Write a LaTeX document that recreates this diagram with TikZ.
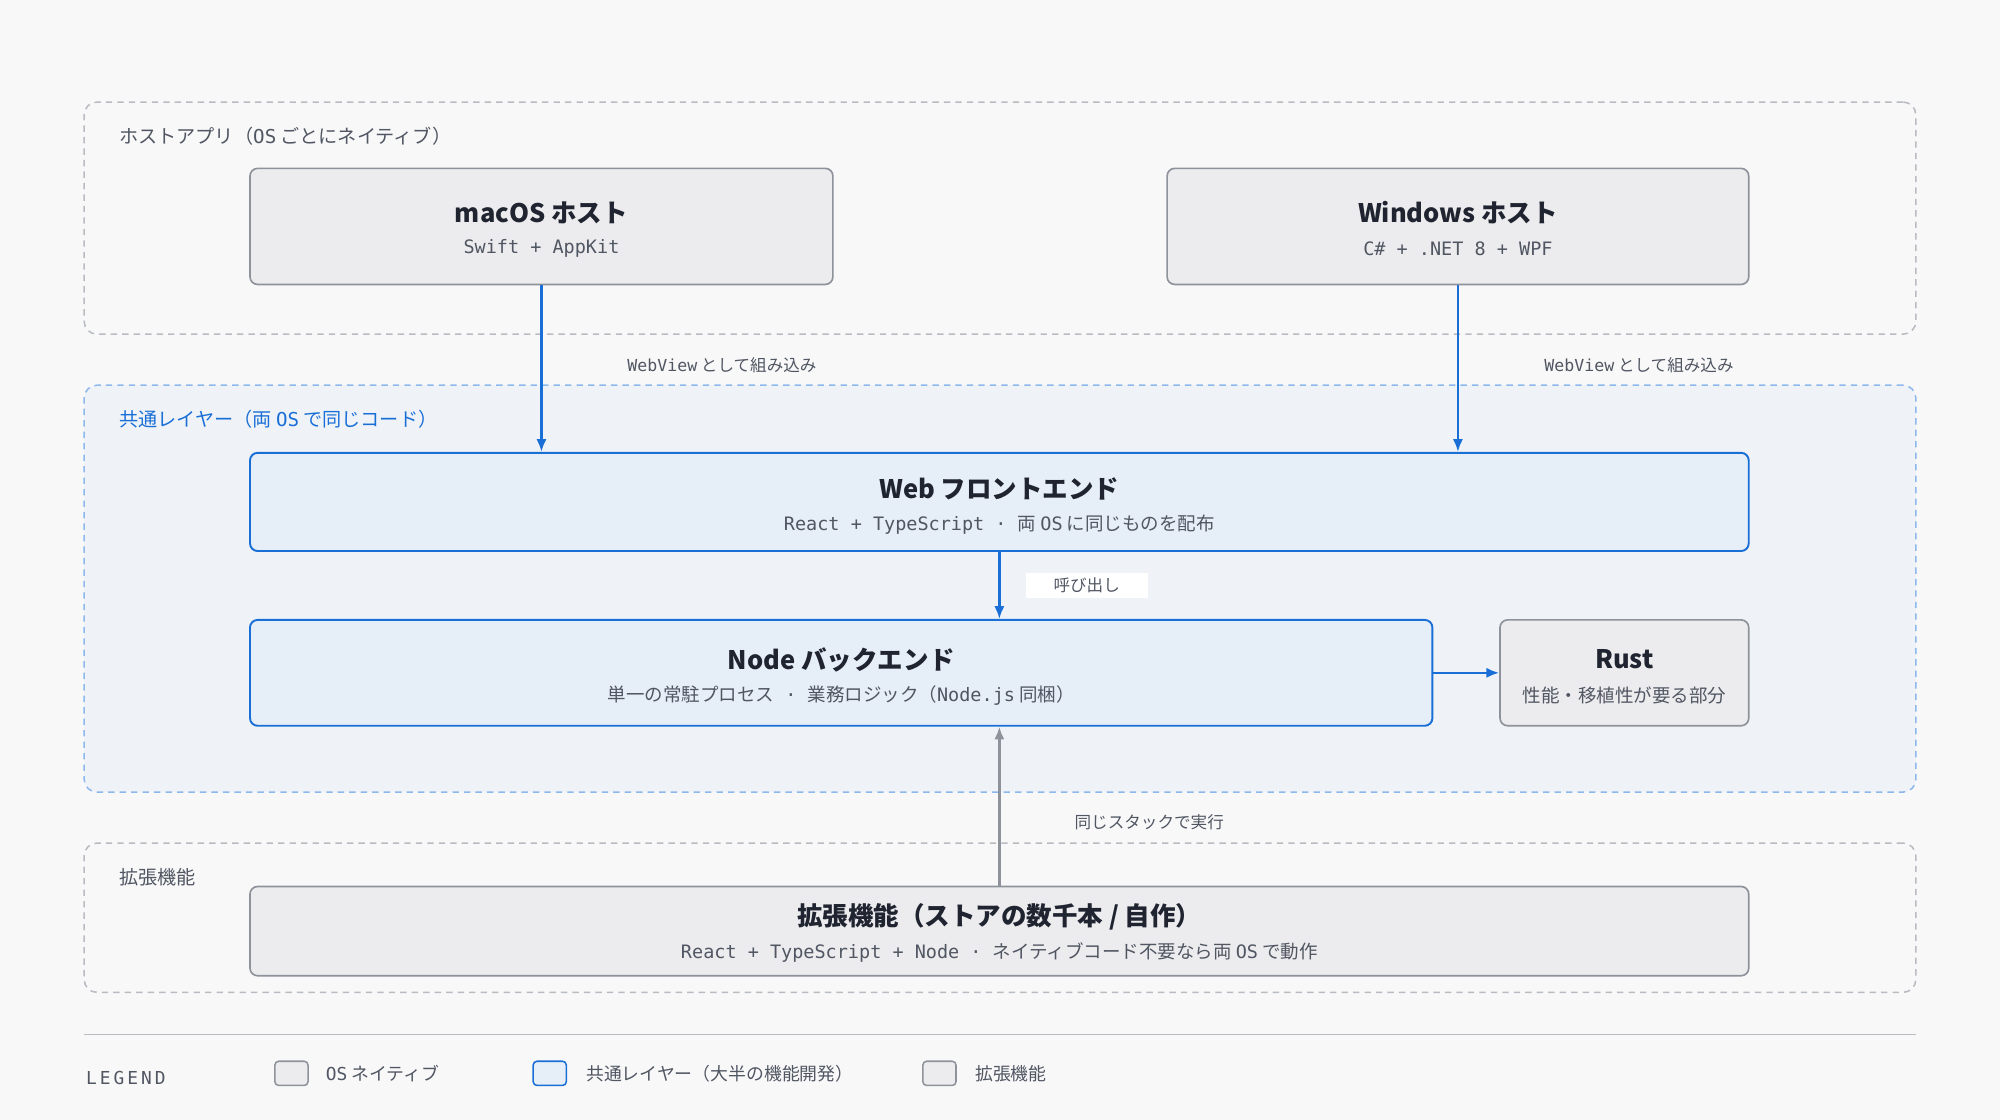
\documentclass[tikz,border=0pt]{standalone}
\usepackage{fontspec}
\setmainfont{Noto Sans CJK JP}
\newfontfamily\mono{DejaVu Sans Mono}
\newcommand{\m}[1]{{\mono #1}}
\usetikzlibrary{arrows.meta}
\definecolor{bg}{HTML}{F8F8F9}
\definecolor{gline}{HTML}{B8BCC2}
\definecolor{gbox}{HTML}{ECECEE}
\definecolor{gdraw}{HTML}{8E939B}
\definecolor{bline}{HTML}{8DB8EC}
\definecolor{bfill}{HTML}{EFF3F8}
\definecolor{bbox}{HTML}{E6EEF7}
\definecolor{bdraw}{HTML}{1A6FD6}
\definecolor{txt}{HTML}{1F2430}
\definecolor{sub}{HTML}{505662}
\tikzset{
 grp/.style={draw=gline,dashed,dash pattern=on 5pt off 4pt,line width=1.2pt,rounded corners=10pt,inner sep=0pt},
 box/.style={draw=gdraw,fill=gbox,line width=1.3pt,rounded corners=6pt,inner sep=0pt},
 bbx/.style={draw=bdraw,fill=bbox,line width=1.5pt,rounded corners=6pt,inner sep=0pt},
 ttl/.style={font=\bfseries\fontsize{20}{24}\selectfont,text=txt},
 sb/.style={font=\fontsize{14.5}{17}\selectfont,text=sub},
 lbl/.style={font=\fontsize{13}{16}\selectfont,text=sub},
 glbl/.style={font=\fontsize{15}{18}\selectfont,text=sub,anchor=west},
 barr/.style={draw=bdraw,line width=1.8pt,-{Latex[length=10pt,width=8pt]}},
 garr/.style={draw=gdraw,line width=1.8pt,-{Latex[length=10pt,width=8pt]}},
}
\begin{document}
\begin{tikzpicture}[x=1pt,y=-1pt]
\fill[bg] (0,0) rectangle (1568,878);
\useasboundingbox (0,0) rectangle (1568,878);
% groups
\node[grp,minimum width=1436pt,minimum height=182pt] (g1) at (784,171) {};
\node[glbl] (g1l) at (90,107) {ホストアプリ（\m{OS} ごとにネイティブ）};
\node[grp,draw=bline,fill=bfill,minimum width=1436pt,minimum height=319pt] (g2) at (784,461.5) {};
\node[glbl,text=bdraw] (g2l) at (90,329) {共通レイヤー（両 \m{OS} で同じコード）};
\node[grp,minimum width=1436pt,minimum height=117pt] (g3) at (784,719.5) {};
\node[glbl] (g3l) at (90,688) {拡張機能};
% boxes
\node[box,minimum width=457pt,minimum height=91pt] (mac) at (424.5,177.5) {};
\node[ttl] (macT) at (424.5,167) {macOS ホスト};
\node[sb] (macS) at (424.5,195) {\m{Swift + AppKit}};
\node[box,minimum width=456pt,minimum height=91pt] (win) at (1143,177.5) {};
\node[ttl] (winT) at (1143,167) {Windows ホスト};
\node[sb] (winS) at (1143,195) {\m{C\# + .NET 8 + WPF}};
\node[bbx,minimum width=1175pt,minimum height=77pt] (web) at (783.5,393.5) {};
\node[ttl] (webT) at (783.5,383) {Web フロントエンド};
\node[sb] (webS) at (783.5,411) {\m{React + TypeScript · }両 \m{OS} に同じものを配布};
\node[bbx,minimum width=927pt,minimum height=83pt] (nd) at (659.5,527.5) {};
\node[ttl] (ndT) at (659.5,517) {Node バックエンド};
\node[sb] (ndS) at (659.5,545) {単一の常駐プロセス\m{ · }業務ロジック（\m{Node.js} 同梱）};
\node[box,minimum width=195pt,minimum height=83pt] (rs) at (1273.5,527.5) {};
\node[ttl] (rsT) at (1273.5,517) {Rust};
\node[sb] (rsS) at (1273.5,545) {性能・移植性が要る部分};
\node[box,minimum width=1175pt,minimum height=70pt] (ext) at (783.5,730) {};
\node[ttl] (extT) at (783.5,719) {拡張機能（ストアの数千本 / 自作）};
\node[sb] (extS) at (783.5,747) {\m{React + TypeScript + Node · }ネイティブコード不要なら両 \m{OS} で動作};
% connectors
\draw[barr] (mac.south) -- (mac.south |- web.north);
\node[lbl] (l1) at (566,286) {\m{WebView} として組み込み};
\draw[barr] (win.south) -- (win.south |- web.north);
\node[lbl] (l2) at (1285,286) {\m{WebView} として組み込み};
\draw[barr] (web.south) -- (web.south |- nd.north);
\node[lbl,fill=white,minimum width=96pt,minimum height=20pt,inner sep=0pt] (l3) at (852,459) {呼び出し};
\draw[barr] (nd.east |- rs.west) -- (rs.west);
\draw[garr] (ext.north) -- (ext.north |- nd.south);
\node[lbl] (l4) at (901,645) {同じスタックで実行};
% legend
\draw[gline,line width=1pt] (66,811) -- (1502,811);
\node[font=\fontsize{14}{17}\selectfont,text=sub,anchor=west] (lg) at (64,845) {\m{L\,E\,G\,E\,N\,D}};
\node[box,line width=1.2pt,rounded corners=3pt,minimum width=26pt,minimum height=19pt] (s1) at (228.5,841.5) {};
\node[glbl,font=\fontsize{14}{17}\selectfont] (s1t) at (252,842) {\m{OS} ネイティブ};
\node[bbx,line width=1.2pt,rounded corners=3pt,minimum width=26pt,minimum height=19pt] (s2) at (431,841.5) {};
\node[glbl,font=\fontsize{14}{17}\selectfont] (s2t) at (456,842) {共通レイヤー（大半の機能開発）};
\node[box,line width=1.2pt,rounded corners=3pt,minimum width=26pt,minimum height=19pt] (s3) at (736.5,841.5) {};
\node[glbl,font=\fontsize{14}{17}\selectfont] (s3t) at (761,842) {拡張機能};
\end{tikzpicture}
\end{document}
